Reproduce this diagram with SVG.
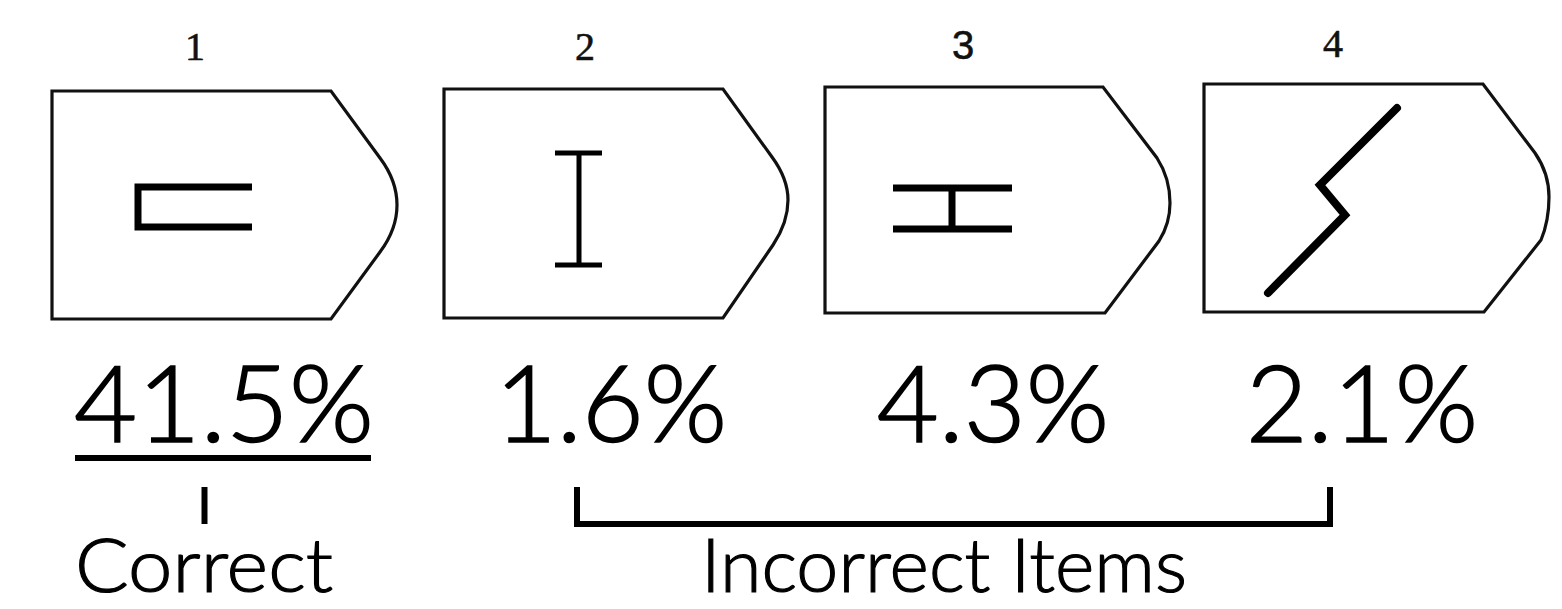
<svg xmlns="http://www.w3.org/2000/svg" width="1562" height="609" viewBox="0 0 1562 609">
<style>
.box{fill:#fff;stroke:#111;stroke-width:3.2;stroke-linejoin:miter}
.sym{fill:none;stroke:#000;stroke-width:7;stroke-linecap:butt}
.num{font-family:"Liberation Serif",serif;font-size:40px;fill:#111;stroke:#111;stroke-width:0.6;text-anchor:middle}
.pct{font-family:Lato,"Noto Sans",sans-serif;font-weight:300;font-size:107px;fill:#000;stroke:#000;stroke-width:1.6}
.lbl{font-family:Lato,"Noto Sans",sans-serif;font-weight:300;font-size:75px;fill:#000;stroke:#000;stroke-width:1.2}
.conn{fill:none;stroke:#000;stroke-width:6}
</style>
<rect width="1562" height="609" fill="#fff"/>
<g id="item1">
<text class="num" x="195" y="60">1</text>
<path class="box" d="M52,91 H331 L380,158 C392,174 397,190 397,205 C397,222 392,236 380,252 L331,319 H52 Z"/>
<path class="sym" d="M252,187 H138 V227 H252"/>
</g>
<g id="item2">
<text class="num" x="585" y="60">2</text>
<path class="box" d="M444,89 H723 L772,157 C783,172 788,186 788,200 C788,216 783,230 773,245 L723,318 H444 Z"/>
<path class="sym" style="stroke-width:5" d="M555,153 H602 M579,153 V265 M555,265 H602"/>
</g>
<g id="item3">
<text class="num" x="963" y="59" style="font-family:'Liberation Sans',sans-serif">3</text>
<path class="box" d="M825,87 H1103 L1157,158 C1166,172 1170,188 1170,203 C1170,218 1166,230 1159,241 L1105,313 H825 Z"/>
<path class="sym" d="M893,188 H1012 M893,229 H1012 M952,188 V229"/>
</g>
<g id="item4">
<text class="num" x="1333" y="57">4</text>
<path class="box" d="M1204,84 H1483 L1535,153 C1544,166 1549,182 1549,197 C1549,214 1546,228 1541,240 L1484,312 H1204 Z"/>
<path class="sym" style="stroke-width:8;stroke-linecap:round;stroke-linejoin:miter" d="M1397,108 L1320,185 L1345,215 L1268,293"/>
</g>
<g id="pct1">
<text class="pct" x="224" y="442" text-anchor="middle" textLength="300" lengthAdjust="spacingAndGlyphs">41.5%</text>
</g>
<g id="pct2">
<text class="pct" x="611" y="442" text-anchor="middle">1.6%</text>
</g>
<g id="pct3">
<text class="pct" x="993" y="442" text-anchor="middle">4.3%</text>
</g>
<g id="pct4">
<text class="pct" x="1362" y="442" text-anchor="middle">2.1%</text>
</g>
<g id="correct">
<text class="lbl" x="204" y="592" text-anchor="middle" textLength="258" lengthAdjust="spacingAndGlyphs">Correct</text>
</g>
<g id="incorrect">
<text class="lbl" x="944" y="592" text-anchor="middle" textLength="486" lengthAdjust="spacingAndGlyphs">Incorrect Items</text>
</g>
<g id="connectors">
<line class="conn" x1="75" y1="458" x2="371" y2="458"/>
<line class="conn" x1="204.5" y1="487" x2="204.5" y2="524"/>
<path class="conn" d="M577,487 V524 H1330 V487"/>
</g>
</svg>
